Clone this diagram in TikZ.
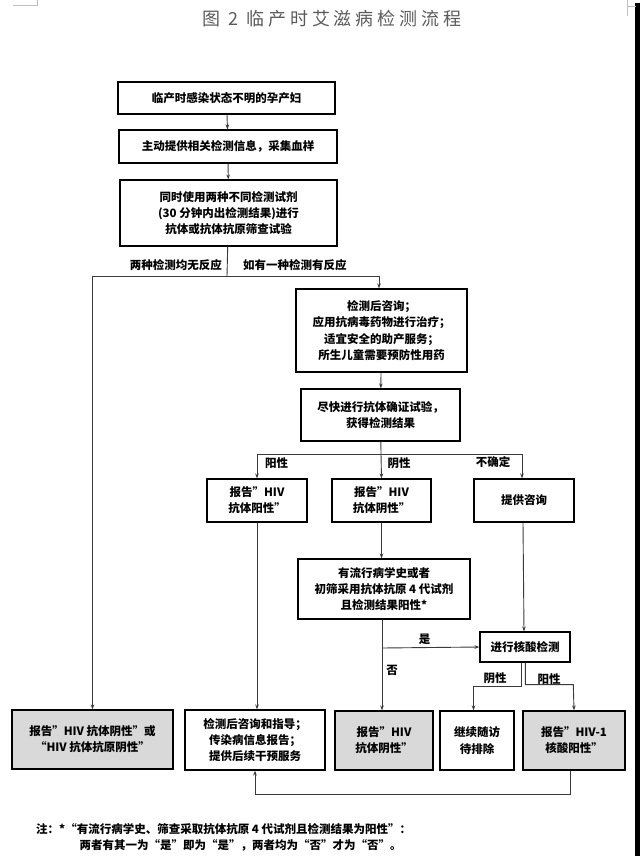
\documentclass[tikz,border=0pt]{standalone}
\usepackage{fontspec}
\newfontfamily\cjk{Noto Sans CJK SC}
\newfontfamily\titlecjk{Noto Sans CJK SC}[LetterSpace=22]
\usetikzlibrary{arrows.meta}
\definecolor{boxgray}{HTML}{D9D9D9}
\definecolor{linegray}{HTML}{3A3A3A}
\definecolor{titlegray}{HTML}{5A5A5A}
\tikzset{
  box/.style={draw=black,line width=1.2pt,align=center,inner sep=0pt,
    font=\cjk\bfseries\fontsize{11.5}{16.2}\selectfont},
  greybox/.style={box,fill=boxgray},
  link/.style={draw=linegray,line width=0.9pt},
  arr/.style={link,-{Stealth[length=5pt,width=3.6pt]}},
  lbl/.style={font=\cjk\bfseries\fontsize{11.5}{14}\selectfont,inner sep=0pt},
}
\begin{document}
\begin{tikzpicture}[x=1pt,y=-1pt]
  \useasboundingbox (0,0) rectangle (640,856);

  \fill[black] (635,3) rectangle (640,856);
  \draw[gray!50,line width=0.6pt] (13,5) -- (37,5) -- (37,0);
  \draw[gray!50,line width=0.6pt] (627,0) -- (627,16) (627,6) -- (636,6);

  \node[font=\titlecjk\fontsize{18}{18}\selectfont,text=titlegray] (title) at (332,19) {图 2 临产时艾滋病检测流程};

  \node[box,minimum width=217pt,minimum height=32pt] (pregnant) at (226.5,98) {临产时感染状态不明的孕产妇};
  \node[box,minimum width=218pt,minimum height=33pt] (sample) at (228,146.5) {主动提供相关检测信息，采集血样};
  \node[box,minimum width=217pt,minimum height=66pt] (screen) at (228.5,213) {同时使用两种不同检测试剂\\(30 分钟内出检测结果)进行\\抗体或抗体抗原筛查试验};
  \node[box,minimum width=171pt,minimum height=83pt] (counsel) at (381.5,330.5) {检测后咨询；\\应用抗病毒药物进行治疗；\\适宜安全的助产服务；\\所生儿童需要预防性用药};
  \node[box,minimum width=159pt,minimum height=52pt] (confirm) at (380.5,415) {尽快进行抗体确证试验，\\获得检测结果};
  \node[box,minimum width=100pt,minimum height=43pt] (abpos) at (257,500.5) {报告”HIV\\抗体阳性”};
  \node[box,minimum width=99pt,minimum height=43pt] (abneg) at (381.5,500.5) {报告”HIV\\抗体阴性”};
  \node[box,minimum width=100pt,minimum height=43pt] (advice) at (524,500.5) {提供咨询};
  \node[box,minimum width=172pt,minimum height=60pt] (history) at (384,589) {有流行病学史或者\\初筛采用抗体抗原 4 代试剂\\且检测结果阳性*};
  \node[box,minimum width=90pt,minimum height=30pt] (nat) at (525,647) {进行核酸检测};

  \node[greybox,minimum width=161pt,minimum height=59pt] (bothneg) at (92.5,739.5) {报告”HIV 抗体阴性”或\\“HIV 抗体抗原阴性”};
  \node[box,minimum width=140pt,minimum height=60pt] (followup) at (255,740) {检测后咨询和指导；\\传染病信息报告；\\提供后续干预服务};
  \node[greybox,minimum width=98pt,minimum height=59pt] (finalneg) at (384,740.5) {报告”HIV\\抗体阴性”};
  \node[box,minimum width=74pt,minimum height=59pt] (watch) at (477,740.5) {继续随访\\待排除};
  \node[greybox,minimum width=102pt,minimum height=59pt] (natpos) at (574,740.5) {报告”HIV-1\\核酸阳性”};

  \coordinate (split) at (227,276);
  \coordinate (result) at (381,454);
  \coordinate (yes) at (382,648);

  \draw[arr] (pregnant) -- (sample);
  \draw[arr] (sample) -- (screen);
  \draw[link] (screen) -- (split);
  \draw[arr] (split) -| (bothneg.north);
  \draw[arr] (split) -| ([xshift=-2.5pt]counsel.north);
  \node[lbl,anchor=east] (nonreact) at (222,265) {两种检测均无反应};
  \node[lbl,anchor=west] (react) at (243,265) {如有一种检测有反应};

  \draw[arr] (counsel) -- (confirm);
  \draw[link] (confirm) -- (result);
  \draw[arr] (result) -| (abpos.north);
  \draw[arr] (result) -- (abneg.north);
  \draw[arr] (result) -| ([xshift=-2pt]advice.north);
  \node[lbl] (pos) at (276.5,463) {阳性};
  \node[lbl] (neg) at (399,463) {阴性};
  \node[lbl] (unsure) at (493,462) {不确定};

  \draw[arr] (abpos) -- (followup.north -| abpos);
  \draw[arr] (abneg) -- (history.north -| abneg);
  \draw[arr] ([xshift=-1pt]advice.south) -- ([xshift=-1pt]nat.north);

  \draw[arr] (history.south -| yes) -- (finalneg.north -| yes);
  \draw[arr] (yes) -- (nat.west);
  \node[lbl] (yeslbl) at (424.5,639) {是};
  \node[lbl] (nolbl) at (392,670) {否};

  \draw[arr] ([xshift=-3.5pt]nat.south) |- ++(-48,24) -- ([xshift=-3.5pt]watch.north);
  \draw[arr] ([xshift=0.3pt]nat.south) |- ++(48,22) -- (natpos.north);
  \node[lbl] (natneg) at (495,678) {阴性};
  \node[lbl] (natposlbl) at (549,679.5) {阳性};

  \draw[arr] ([xshift=-4pt]natpos.south) -- ++(0,24) -| (followup.south);

  \node[lbl,anchor=west] (note1) at (36,829) {注：*“有流行病学史、筛查采取抗体抗原 4 代试剂且检测结果为阳性”：};
  \node[lbl,anchor=west] (note2) at (79.5,845) {两者有其一为“是”即为“是”，两者均为“否”才为“否”。};
\end{tikzpicture}
\end{document}
